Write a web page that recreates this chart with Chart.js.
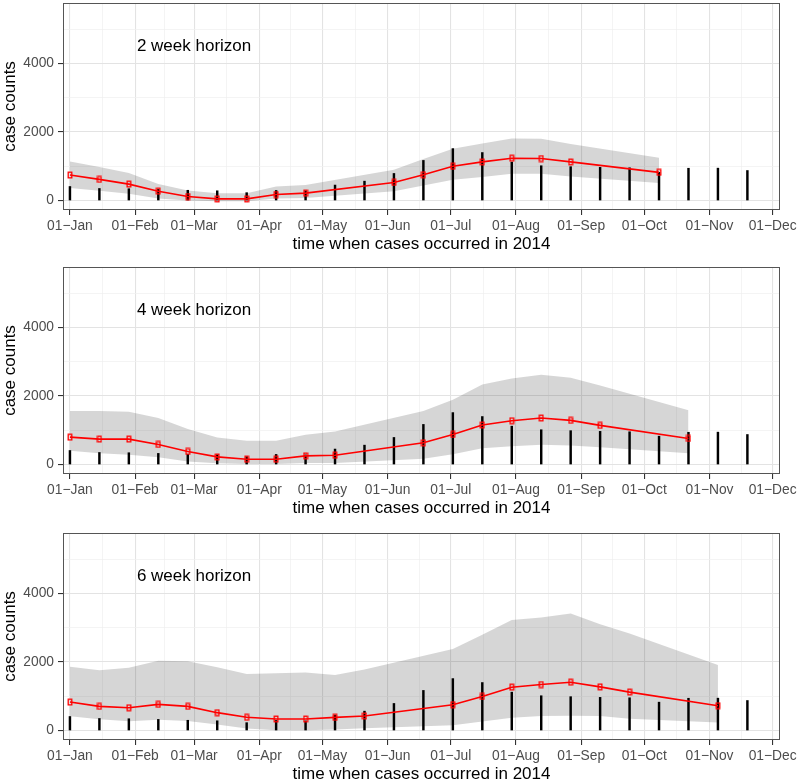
<!DOCTYPE html>
<html>
<head>
<meta charset="utf-8">
<script src="https://cdn.jsdelivr.net/npm/chart.js"></script>
<style>
  html, body { margin: 0; padding: 0; background: #fff; overflow: hidden; }
  .panel { position: absolute; left: 0; width: 800px; height: 256px; }
</style>
</head>
<body>
<div class="panel" style="top:0px"><canvas id="h2" width="800" height="256"></canvas></div>
<div class="panel" style="top:264px"><canvas id="h4" width="800" height="256"></canvas></div>
<div class="panel" style="top:530px"><canvas id="h6" width="800" height="256"></canvas></div>
<script>
// observation dates, every 2 weeks
const dates = ['2014-01-01', '2014-01-15', '2014-01-29', '2014-02-12', '2014-02-26', '2014-03-12',
  '2014-03-26', '2014-04-09', '2014-04-23', '2014-05-07', '2014-05-21', '2014-06-04',
  '2014-06-18', '2014-07-02', '2014-07-16', '2014-07-30', '2014-08-13', '2014-08-27',
  '2014-09-10', '2014-09-24', '2014-10-08', '2014-10-22', '2014-11-05', '2014-11-19'];

// observed case counts (black bars)
const observed = [410, 352, 345, 325, 300, 285, 230, 295, 283, 452, 566, 790,
  1170, 1515, 1400, 1120, 1015, 988, 968, 956, 828, 942, 945, 876];

// 2 week horizon: prediction, lower, upper
const mean2 = [745, 617, 480, 274, 118, 49, 49, 176, 216, null, null, 529,
  752, 1000, 1127, 1235, 1225, 1127, null, null, 823, null, null, null];
const lo2 = [363, 284, 196, 59, 0, -20, -20, 59, 78, null, null, 274,
  441, 608, 686, 784, 784, 700, null, null, 510, null, null, null];
const hi2 = [1137, 980, 804, 480, 294, 216, 216, 412, 451, null, null, 902,
  1215, 1509, 1666, 1813, 1803, 1650, null, null, 1245, null, null, null];

// 4 week horizon
const mean4 = [800, 742, 742, 586, 381, 224, 156, 156, 254, 273, null, null,
  634, 878, 1152, 1279, 1357, 1288, 1142, null, null, 761, null, null];
const lo4 = [400, 332, 283, 215, 88, 39, 20, 20, 49, 49, null, null,
  166, 303, 478, 537, 576, 557, 508, null, null, 332, null, null];
const hi4 = [1562, 1562, 1542, 1357, 1035, 791, 693, 693, 869, 966, null, null,
  1560, 1893, 2333, 2508, 2616, 2528, 2303, null, null, 1581, null, null];

// 6 week horizon
const mean6 = [831, 705, 667, 763, 705, 522, 386, 338, 338, 386, 425, null,
  null, 753, 995, 1265, 1343, 1410, 1275, 1121, null, null, 725, null];
const lo6 = [415, 328, 270, 319, 280, 174, 58, 10, 10, 29, 68, null,
  null, 155, 261, 377, 425, 435, 425, 348, null, null, 232, null];
const hi6 = [1864, 1758, 1835, 2038, 2019, 1845, 1652, 1671, 1690, 1623, 1777, null,
  null, 2376, 2792, 3226, 3294, 3410, 3101, 2830, null, null, 1913, null];

const monthTicks = ['2014-01-01', '2014-02-01', '2014-03-01', '2014-04-01', '2014-05-01', '2014-06-01',
  '2014-07-01', '2014-08-01', '2014-09-01', '2014-10-01', '2014-11-01', '2014-12-01'];
const monthLabels = ['01−Jan', '01−Feb', '01−Mar', '01−Apr', '01−May', '01−Jun',
  '01−Jul', '01−Aug', '01−Sep', '01−Oct', '01−Nov', '01−Dec'];
const yMajor = [0, 2000, 4000];
const yMinor = [1000, 3000, 5000];
const horizonLabels = ['2 week horizon', '4 week horizon', '6 week horizon'];

// days since 01-Jan-2014
function dayOf(s) {
  return (Date.UTC(+s.slice(0, 4), +s.slice(5, 7) - 1, +s.slice(8, 10)) - Date.UTC(2014, 0, 1)) / 86400000;
}

const xMajor = monthTicks.map(dayOf);
const xMinor = xMajor.slice(1).map((d, i) => (d + xMajor[i]) / 2);
const xGrid = xMajor.concat(xMinor).sort((a, b) => a - b);
const yGrid = yMajor.concat(yMinor).sort((a, b) => a - b);

const FONT = '"Liberation Sans", Arial, sans-serif';

// hollow red marker
const marker = document.createElement('canvas');
marker.width = 6; marker.height = 8;
(function () {
  const c = marker.getContext('2d');
  c.strokeStyle = '#ff0000';
  c.lineWidth = 1.3;
  c.strokeRect(1.2, 1.2, 3.6, 5.6);
})();

function points(vals) {
  return dates.map((d, i) => ({ x: dayOf(d), y: vals[i] })).filter(p => p.y !== null);
}

const panelDeco = {
  id: 'panelDeco',
  afterDatasetsDraw(chart, args, opts) {
    const { ctx, chartArea: a, scales: { x, y } } = chart;
    ctx.save();
    ctx.font = '17px ' + FONT;
    ctx.fillStyle = '#000';
    ctx.textAlign = 'center';
    ctx.textBaseline = 'middle';
    ctx.fillText(opts.text, x.getPixelForValue(dayOf('2014-03-01')), y.getPixelForValue(4500));
    ctx.strokeStyle = '#555';
    ctx.lineWidth = 1;
    ctx.strokeRect(a.left + 0.5, a.top + 0.5, a.right - a.left - 1, a.bottom - a.top - 1);
    ctx.restore();
  }
};

function makePanel(id, mean, lo, hi, label) {
  return new Chart(document.getElementById(id), {
    type: 'line',
    data: {
      datasets: [
        { data: points(hi), fill: '+1', backgroundColor: 'rgba(51,51,51,0.2)',
          borderWidth: 0, pointRadius: 0, order: 3 },
        { data: points(lo), fill: false, borderWidth: 0, pointRadius: 0, order: 3 },
        { type: 'bar', data: points(observed), backgroundColor: '#000',
          barThickness: 1.8, order: 2 },
        { data: points(mean), borderColor: '#ff0000', borderWidth: 1.6, tension: 0,
          pointStyle: marker, pointRadius: 3, fill: false, order: 1 }
      ]
    },
    options: {
      responsive: false,
      animation: false,
      events: [],
      layout: { autoPadding: false, padding: { top: 3, right: 20, bottom: 0, left: 0 } },
      plugins: {
        legend: { display: false },
        tooltip: { enabled: false },
        panelDeco: { text: label }
      },
      scales: {
        x: {
          type: 'linear', min: -3.3, max: 337.5, offset: false,
          afterBuildTicks: s => { s.ticks = xGrid.map(v => ({ value: v })); },
          afterFit: s => { s.height = 46; s.paddingLeft = 0; s.paddingRight = 0; },
          ticks: {
            autoSkip: false, maxRotation: 0, padding: 3, color: '#4d4d4d',
            font: { family: FONT, size: 13.8 },
            callback: v => { const i = xMajor.indexOf(v); return i >= 0 ? monthLabels[i] : ''; }
          },
          grid: {
            offset: false,
            color: c => xMajor.includes(c.tick.value) ? '#e3e3e3' : '#efefef',
            lineWidth: c => xMajor.includes(c.tick.value) ? 1.1 : 0.7,
            tickColor: c => xMajor.includes(c.tick.value) ? '#333' : 'rgba(0,0,0,0)',
            tickLength: 5
          },
          border: { display: false },
          title: { display: true, text: 'time when cases occurred in 2014', color: '#000',
            font: { family: FONT, size: 17 }, padding: { top: 0, bottom: 1 } }
        },
        y: {
          min: -275, max: 5760,
          afterBuildTicks: s => { s.ticks = yGrid.map(v => ({ value: v })); },
          afterFit: s => { s.width = 63; s.paddingTop = 0; s.paddingBottom = 0; },
          ticks: {
            padding: 4, color: '#4d4d4d', font: { family: FONT, size: 13.8 },
            callback: v => yMajor.includes(v) ? String(v) : ''
          },
          grid: {
            color: c => yMajor.includes(c.tick.value) ? '#e3e3e3' : '#efefef',
            lineWidth: c => yMajor.includes(c.tick.value) ? 1.1 : 0.7,
            tickColor: c => yMajor.includes(c.tick.value) ? '#333' : 'rgba(0,0,0,0)',
            tickLength: 5
          },
          border: { display: false },
          title: { display: true, text: 'case counts', color: '#000',
            font: { family: FONT, size: 17 }, padding: { top: 0, bottom: 0 } }
        }
      }
    },
    plugins: [panelDeco]
  });
}

makePanel('h2', mean2, lo2, hi2, horizonLabels[0]);
makePanel('h4', mean4, lo4, hi4, horizonLabels[1]);
makePanel('h6', mean6, lo6, hi6, horizonLabels[2]);
</script>
</body>
</html>
